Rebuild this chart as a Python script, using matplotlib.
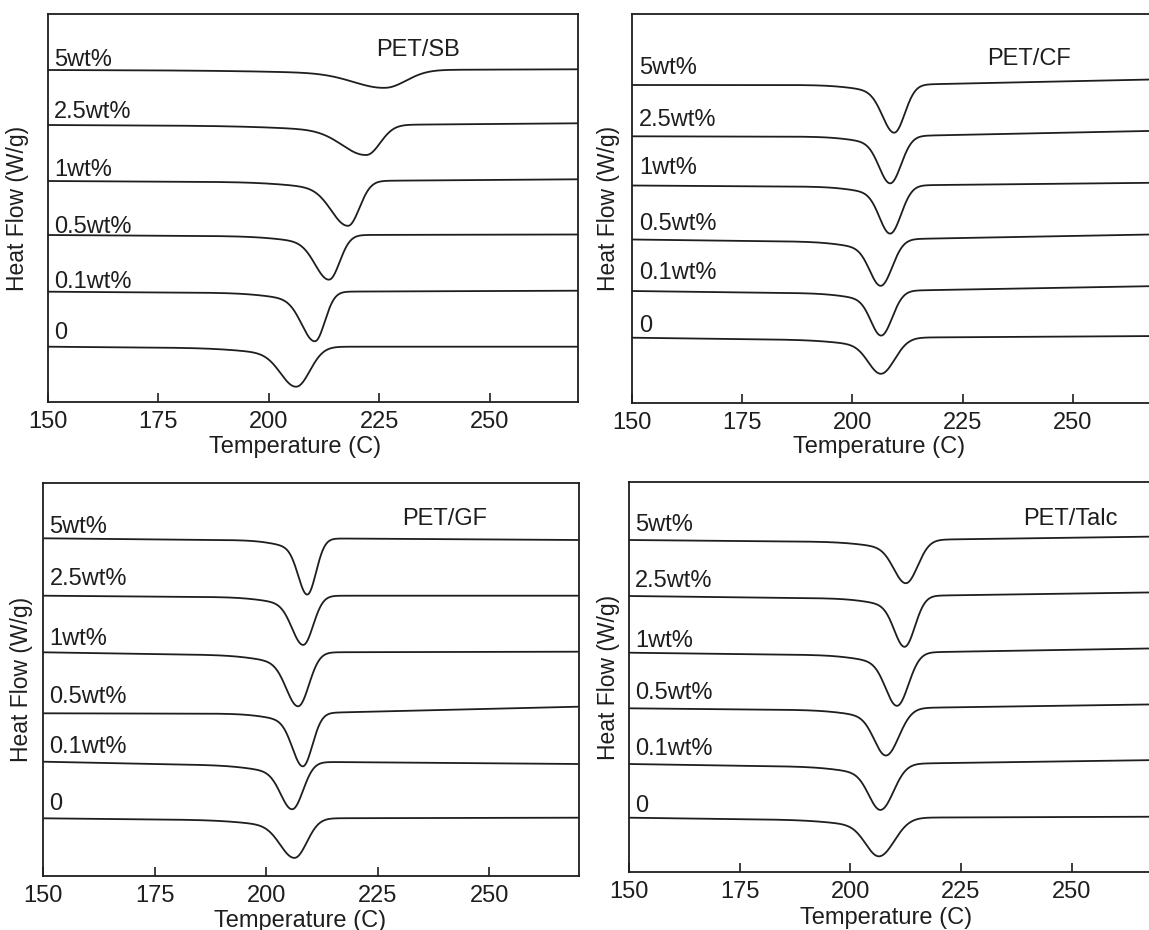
import numpy as np
import matplotlib
matplotlib.use("Agg")
import matplotlib.pyplot as plt

plt.rcParams['font.family'] = ['Liberation Sans', 'DejaVu Sans']

# ---------------- data ----------------
labels = ["5wt%", "2.5wt%", "1wt%", "0.5wt%", "0.1wt%", "0"]
titles = ["PET/SB", "PET/CF", "PET/GF", "PET/Talc"]
x_ticks = [150, 175, 200, 225, 250]

# baseline level at 150 C, drop of left baseline up to the peak, level at 270 C
sb_base = [332.0, 277.0, 221.0, 167.0, 110.3, 55.3]
sb_drop = [1.0, 1.5, 1.6, 1.7, 1.7, 2.0]
sb_end = [332.7, 278.7, 222.7, 167.5, 111.3, 55.3]
sb_peak = [226.5, 222.2, 218.0, 213.7, 210.5, 206.3]
sb_depth = [17.3, 29.2, 44.0, 43.8, 48.7, 39.0]
sb_hwl = [9.2, 7.0, 4.8, 4.0, 3.8, 4.5]
sb_hwr = [5.5, 3.6, 3.0, 2.8, 2.6, 3.6]

cf_base = [318.0, 266.7, 217.5, 163.5, 112.0, 65.3]
cf_drop = [0.0, 0.5, 1.6, 3.0, 3.1, 3.1]
cf_end = [323.7, 272.3, 220.3, 168.7, 117.0, 67.0]
cf_peak = [209.5, 208.6, 208.6, 206.5, 206.6, 206.6]
cf_depth = [47.7, 46.8, 47.3, 44.8, 43.0, 34.5]
cf_hwl = [3.4, 3.2, 3.1, 3.2, 3.0, 3.7]
cf_hwr = [2.8, 2.9, 2.9, 3.0, 2.9, 3.6]

gf_base = [337.7, 280.3, 223.7, 162.7, 114.3, 57.7]
gf_drop = [2.5, 2.0, 3.9, 0.5, 5.0, 2.5]
gf_end = [336.0, 280.3, 224.3, 169.3, 112.0, 58.3]
gf_peak = [209.2, 208.3, 207.2, 208.2, 205.9, 206.4]
gf_depth = [55.0, 48.2, 52.0, 52.8, 45.0, 38.3]
gf_hwl = [2.6, 3.2, 3.4, 3.0, 3.3, 4.1]
gf_hwr = [2.3, 2.6, 2.8, 2.5, 2.8, 3.2]

talc_base = [332.3, 276.3, 219.6, 164.0, 108.3, 54.6]
talc_drop = [2.4, 3.2, 3.2, 2.4, 3.8, 3.2]
talc_end = [335.8, 280.0, 224.0, 168.0, 112.3, 55.6]
talc_peak = [212.6, 212.3, 210.6, 208.1, 206.9, 206.6]
talc_depth = [42.0, 49.2, 51.5, 46.0, 44.0, 37.0]
talc_hwl = [3.5, 3.0, 3.3, 3.4, 3.4, 3.9]
talc_hwr = [3.1, 2.7, 3.0, 3.4, 3.4, 4.0]

# ---------------- layout ----------------
FW, FH = 1149, 930
INK = "#1e1e1e"
FS = 17

layouts = [
    dict(l=47.6, t=14.0, w=530.4, h=388.0, lab_x=151.4, lab_off=[4, 7, 5, 2.5, 4, 8],
         title_x=224.4, title_y=346, xlab_x=206, xlab_y=-50.5, ylab_x=17.3),
    dict(l=631.8, t=14.3, w=529.2, h=388.7, lab_x=151.7, lab_off=[11, 10, 12, 10, 12, 6],
         title_x=230.5, title_y=338, xlab_x=206, xlab_y=-49.5, ylab_x=608),
    dict(l=43.3, t=483.3, w=535.2, h=392.7, lab_x=151.4, lab_off=[5, 10.5, 7, 10, 8.4, 8],
         title_x=230.4, title_y=351, xlab_x=207.5, xlab_y=-51, ylab_x=21.3),
    dict(l=628.8, t=482.3, w=531.6, h=390.0, lab_x=151.4, lab_off=[9, 8.7, 6, 9, 9, 6],
         title_x=238.9, title_y=347.3, xlab_x=208, xlab_y=-51.7, ylab_x=608),
]

series = [
    (sb_base, sb_drop, sb_end, sb_peak, sb_depth, sb_hwl, sb_hwr),
    (cf_base, cf_drop, cf_end, cf_peak, cf_depth, cf_hwl, cf_hwr),
    (gf_base, gf_drop, gf_end, gf_peak, gf_depth, gf_hwl, gf_hwr),
    (talc_base, talc_drop, talc_end, talc_peak, talc_depth, talc_hwl, talc_hwr),
]

T = np.linspace(150, 270, 2401)


def trace(T, y0, drop, yend, Tp, depth, hwl, hwr):
    """DSC trace: sloping baseline with an asymmetric crystallisation dip."""
    left_base = y0 - drop * (T - 150) / (Tp - 150)
    right_base = y0 + (yend - y0) * np.clip((T - Tp) / (270 - Tp), 0, None)
    S = 1.0 / (1.0 + np.exp(-(T - Tp) / 1.5))
    base = (1 - S) * left_base + S * right_base
    s1 = hwl / 1.30
    sT = 2.8 * s1
    sR = hwr / 1.177
    d = T - Tp
    left = 0.85 * np.exp(-0.5 * (d / s1) ** 2) + 0.15 * np.exp(-0.5 * (d / sT) ** 2)
    right = np.exp(-0.5 * (d / sR) ** 2)
    g = np.where(d < 0, left, right)
    return base - depth * g


fig = plt.figure(figsize=(FW / 100, FH / 100), dpi=100)

for title, lay, ser in zip(titles, layouts, series):
    rect = [lay['l'] / FW, 1 - (lay['t'] + lay['h']) / FH, lay['w'] / FW, lay['h'] / FH]
    ax = fig.add_axes(rect)
    ax.set_xlim(150, 270)
    ax.set_ylim(0, lay['h'])
    base, drop, end, peak, depth, hwl, hwr = ser
    for i, lab in enumerate(labels):
        y = trace(T, base[i], drop[i], end[i], peak[i], depth[i], hwl[i], hwr[i])
        ax.plot(T, y, color=INK, lw=1.3, solid_capstyle='butt', clip_on=False)
        ax.text(lay['lab_x'], base[i] + lay['lab_off'][i], lab, fontsize=FS,
                ha='left', va='baseline', color=INK)
    ax.text(lay['title_x'], lay['title_y'], title, fontsize=FS, ha='left',
            va='baseline', color=INK)
    ax.text(lay['xlab_x'], lay['xlab_y'], "Temperature (C)", fontsize=FS,
            ha='center', va='baseline', color=INK, clip_on=False)
    fig.text(lay['ylab_x'] / FW, 1 - (lay['t'] + lay['h'] / 2) / FH, "Heat Flow (W/g)",
             rotation=90, ha='center', va='center', fontsize=16.5, color=INK)
    ax.set_xticks(x_ticks)
    ax.set_xticklabels([str(t) for t in x_ticks])
    ax.set_yticks([])
    ax.tick_params(axis='x', direction='in', length=6.5, width=1.2, pad=6.5,
                   labelsize=FS, colors=INK)
    for sp in ax.spines.values():
        sp.set_linewidth(1.3)
        sp.set_color(INK)

fig.savefig("out.png", dpi=100)
